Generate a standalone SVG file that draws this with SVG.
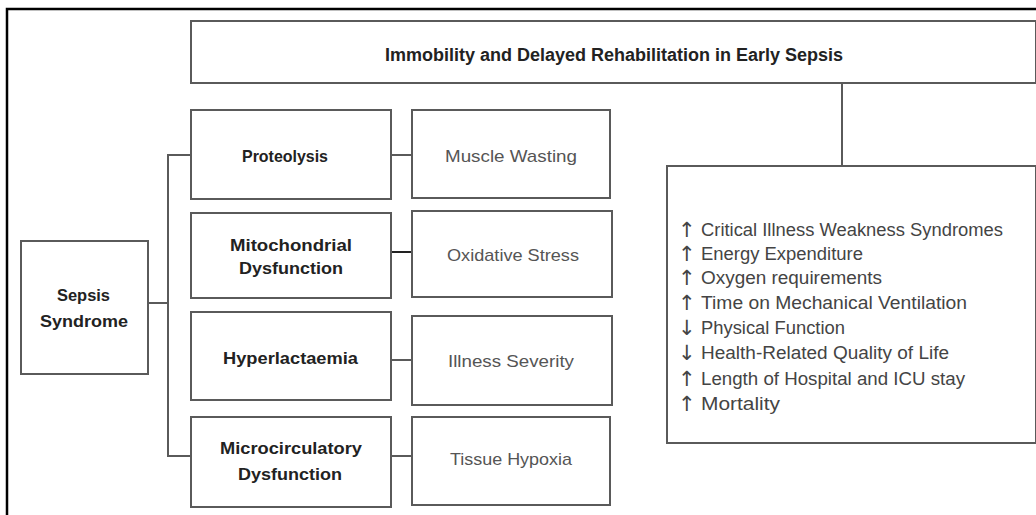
<svg xmlns="http://www.w3.org/2000/svg" width="1036" height="515" viewBox="0 0 1036 515">
<style>
  .box { fill: #ffffff; stroke: #5a5a5a; stroke-width: 2; }
  .conn { fill: none; stroke: #5a5a5a; stroke-width: 2; }
  .b { font-family: "Liberation Sans", Arial, sans-serif; font-weight: bold; font-size: 16.5px; fill: #222222; }
  .r { font-family: "Liberation Sans", Arial, sans-serif; font-size: 17px; fill: #555555; }
  .l { font-family: "Liberation Sans", Arial, sans-serif; font-size: 17.5px; fill: #444444; }
  .arr { font-family: "DejaVu Sans", "Liberation Sans", sans-serif; font-size: 21px; fill: #444444; }
</style>
<rect x="0" y="0" width="1036" height="515" fill="#ffffff"/>
<path d="M7 515 V9 H1036" fill="none" stroke="#000000" stroke-width="2.5"/>

<g id="connectors">
  <path class="conn" d="M148 303 H168"/>
  <path class="conn" d="M191 155 H168 V456 H191"/>
  <path class="conn" d="M391 155 H412"/>
  <path class="conn" d="M391 252 H412" style="stroke:#222222"/>
  <path class="conn" d="M391 360 H412"/>
  <path class="conn" d="M391 456 H412"/>
  <path class="conn" d="M842 83 V166"/>
</g>

<g id="title">
  <rect class="box" x="191" y="21" width="845" height="62"/>
  <text class="b" x="385" y="61" textLength="458" lengthAdjust="spacingAndGlyphs" style="font-size:17.5px">Immobility and Delayed Rehabilitation in Early Sepsis</text>
</g>

<g id="sepsis">
  <rect class="box" x="21" y="241" width="127" height="133"/>
  <text class="b" x="57" y="301" textLength="53" lengthAdjust="spacingAndGlyphs">Sepsis</text>
  <text class="b" x="40" y="327" textLength="88" lengthAdjust="spacingAndGlyphs">Syndrome</text>
</g>

<g id="proteolysis">
  <rect class="box" x="191" y="110" width="200" height="89"/>
  <text class="b" x="242" y="162" textLength="86" lengthAdjust="spacingAndGlyphs" style="font-size:17px">Proteolysis</text>
</g>

<g id="muscle-wasting">
  <rect class="box" x="412" y="110" width="198" height="88"/>
  <text class="r" x="445" y="162" textLength="132" lengthAdjust="spacingAndGlyphs">Muscle Wasting</text>
</g>

<g id="mitochondrial">
  <rect class="box" x="191" y="213" width="200" height="85"/>
  <text class="b" x="230" y="251" textLength="122" lengthAdjust="spacingAndGlyphs">Mitochondrial</text>
  <text class="b" x="239" y="274" textLength="104" lengthAdjust="spacingAndGlyphs">Dysfunction</text>
</g>

<g id="oxidative-stress">
  <rect class="box" x="412" y="211" width="200" height="86"/>
  <text class="r" x="447" y="261" textLength="132" lengthAdjust="spacingAndGlyphs">Oxidative Stress</text>
</g>

<g id="hyperlactaemia">
  <rect class="box" x="191" y="312" width="200" height="88"/>
  <text class="b" x="223" y="364" textLength="135" lengthAdjust="spacingAndGlyphs">Hyperlactaemia</text>
</g>

<g id="illness-severity">
  <rect class="box" x="412" y="316" width="200" height="89"/>
  <text class="r" x="448" y="367" textLength="126" lengthAdjust="spacingAndGlyphs">Illness Severity</text>
</g>

<g id="microcirculatory">
  <rect class="box" x="191" y="417" width="200" height="90"/>
  <text class="b" x="220" y="454" textLength="142" lengthAdjust="spacingAndGlyphs">Microcirculatory</text>
  <text class="b" x="238" y="480" textLength="104" lengthAdjust="spacingAndGlyphs">Dysfunction</text>
</g>

<g id="tissue-hypoxia">
  <rect class="box" x="412" y="417" width="198" height="88"/>
  <text class="r" x="450" y="465" textLength="122" lengthAdjust="spacingAndGlyphs">Tissue Hypoxia</text>
</g>

<g id="outcomes">
  <rect class="box" x="667" y="166" width="369" height="277"/>
  <text class="arr" x="678" y="237">↑</text>
  <text class="l" x="701" y="236" textLength="302" lengthAdjust="spacingAndGlyphs">Critical Illness Weakness Syndromes</text>
  <text class="arr" x="678" y="261">↑</text>
  <text class="l" x="701" y="260" textLength="162" lengthAdjust="spacingAndGlyphs">Energy Expenditure</text>
  <text class="arr" x="678" y="285">↑</text>
  <text class="l" x="701" y="284" textLength="181" lengthAdjust="spacingAndGlyphs">Oxygen requirements</text>
  <text class="arr" x="678" y="310">↑</text>
  <text class="l" x="701" y="309" textLength="266" lengthAdjust="spacingAndGlyphs">Time on Mechanical Ventilation</text>
  <text class="arr" x="678" y="335">↓</text>
  <text class="l" x="701" y="334" textLength="144" lengthAdjust="spacingAndGlyphs">Physical Function</text>
  <text class="arr" x="678" y="360">↓</text>
  <text class="l" x="701" y="359" textLength="248" lengthAdjust="spacingAndGlyphs">Health-Related Quality of Life</text>
  <text class="arr" x="678" y="386">↑</text>
  <text class="l" x="701" y="385" textLength="264" lengthAdjust="spacingAndGlyphs">Length of Hospital and ICU stay</text>
  <text class="arr" x="678" y="411">↑</text>
  <text class="l" x="701" y="410" textLength="79" lengthAdjust="spacingAndGlyphs">Mortality</text>
</g>
</svg>
